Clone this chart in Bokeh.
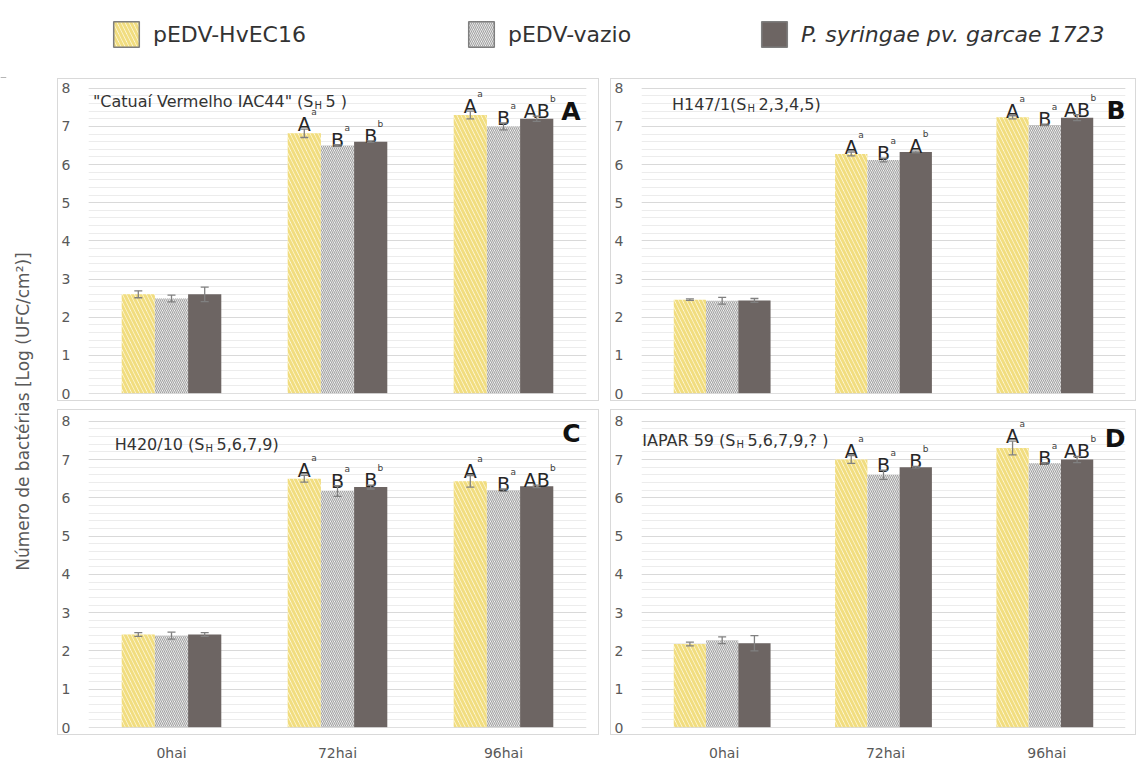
from bokeh.plotting import figure
from bokeh.models import (Range1d, FixedTicker, Whisker, TeeHead, ColumnDataSource,
                          Legend, LegendItem, Spacer, Label, Span)
from bokeh.layouts import row, column
from bokeh.transform import dodge
from bokeh.embed import file_html
from bokeh.resources import INLINE
from bokeh.core.properties import value

# ------------------------------------------------------------------ data
categories = ["0hai", "72hai", "96hai"]
series_names = ["pEDV-HvEC16", "pEDV-vazio", "P. syringae pv. garcae 1723"]
y_ticks = [0, 1, 2, 3, 4, 5, 6, 7, 8]
axis_title = "Número de bactérias [Log (UFC/cm²)]"

panel_letters = ["A", "B", "C", "D"]
title_pre = ['"Catuaí Vermelho IAC44" (S', "H147/1(S", "H420/10 (S", "IAPAR 59 (S"]
title_sub = ["H", "H", "H", "H"]
title_post = [" 5 )", " 2,3,4,5)", " 5,6,7,9)", " 5,6,7,9,? )"]

# Panel A - "Catuaí Vermelho IAC44"
A_hvec = [2.60, 6.82, 7.30]
A_hvec_err = [0.09, 0.11, 0.10]
A_vazio = [2.49, 6.50, 7.00]
A_vazio_err = [0.09, 0.02, 0.09]
A_psg = [2.60, 6.60, 7.20]
A_psg_err = [0.19, 0.02, 0.07]

# Panel B - H147/1
B_hvec = [2.46, 6.28, 7.24]
B_hvec_err = [0.02, 0.05, 0.04]
B_vazio = [2.43, 6.12, 7.04]
B_vazio_err = [0.09, 0.05, 0.02]
B_psg = [2.44, 6.33, 7.23]
B_psg_err = [0.05, 0.02, 0.08]

# Panel C - H420/10
C_hvec = [2.43, 6.50, 6.43]
C_hvec_err = [0.05, 0.09, 0.15]
C_vazio = [2.40, 6.18, 6.20]
C_vazio_err = [0.09, 0.14, 0.03]
C_psg = [2.43, 6.28, 6.30]
C_psg_err = [0.05, 0.05, 0.03]

# Panel D - IAPAR 59
D_hvec = [2.18, 7.00, 7.30]
D_hvec_err = [0.05, 0.10, 0.18]
D_vazio = [2.28, 6.60, 6.90]
D_vazio_err = [0.09, 0.12, 0.02]
D_psg = [2.20, 6.80, 7.00]
D_psg_err = [0.20, 0.02, 0.08]

# significance letters (capital letter + superscript)
A_let = [["", "A", "A"], ["", "B", "B"], ["", "B", "AB"]]
A_sup = [["", "a", "a"], ["", "a", "a"], ["", "b", "b"]]
B_let = [["", "A", "A"], ["", "B", "B"], ["", "A", "AB"]]
B_sup = [["", "a", "a"], ["", "a", "a"], ["", "b", "b"]]
C_let = [["", "A", "A"], ["", "B", "B"], ["", "B", "AB"]]
C_sup = [["", "a", "a"], ["", "a", "a"], ["", "b", "b"]]
D_let = [["", "A", "A"], ["", "B", "B"], ["", "B", "AB"]]
D_sup = [["", "a", "a"], ["", "a", "a"], ["", "b", "b"]]

panels_data = [
    ([A_hvec, A_vazio, A_psg], [A_hvec_err, A_vazio_err, A_psg_err], A_let, A_sup),
    ([B_hvec, B_vazio, B_psg], [B_hvec_err, B_vazio_err, B_psg_err], B_let, B_sup),
    ([C_hvec, C_vazio, C_psg], [C_hvec_err, C_vazio_err, C_psg_err], C_let, C_sup),
    ([D_hvec, D_vazio, D_psg], [D_hvec_err, D_vazio_err, D_psg_err], D_let, D_sup),
]

# ------------------------------------------------------------------ styles
FONT = "DejaVu Sans"
GRID = "#d9d9d9"
MINOR = "#ececec"
TXT = "#595959"
ERR = "#808080"
series_styles = [
    dict(fill_color="#fffcea", hatch_pattern="\\", hatch_color="#f1dd80",
         hatch_scale=8, hatch_weight=3),
    dict(fill_color="#ffffff", hatch_pattern="\\", hatch_color="#a3a3a3",
         hatch_scale=4, hatch_weight=1.2),
    dict(fill_color="#6d6563"),
]
offsets = [-0.2, 0.0, 0.2]
bar_width = 0.2

panel_cfg = [
    dict(width=542, height=323, left=30, right=14, top=8, bottom=9,
         sub_x=226, title_dy=13.5, let_dx=-6, let_dy=24),
    dict(width=526, height=323, left=30, right=12, top=8, bottom=9,
         sub_x=106, title_dy=16.5, let_dx=0, let_dy=23),
    dict(width=542, height=326, left=30, right=14, top=10, bottom=9,
         sub_x=117, title_dy=24, let_dx=-6, let_dy=13),
    dict(width=526, height=326, left=30, right=12, top=10, bottom=9,
         sub_x=95, title_dy=20, let_dx=0, let_dy=18),
]


def make_panel(k):
    cfg = panel_cfg[k]
    vals, errs, lets, sups = panels_data[k]
    p = figure(width=cfg["width"], height=cfg["height"],
               x_range=Range1d(-0.5, len(categories) - 0.5),
               y_range=Range1d(0, 8.02),
               toolbar_location=None, output_backend="svg",
               x_axis_location=None,
               min_border_left=cfg["left"], min_border_right=cfg["right"],
               min_border_top=cfg["top"], min_border_bottom=cfg["bottom"],
               styles={"border": "1px solid #d9d9d9"})
    p.outline_line_color = None
    p.background_fill_color = "white"
    ticker = FixedTicker(ticks=y_ticks,
                         minor_ticks=[round(i * 0.2, 1) for i in range(41)])
    p.yaxis.ticker = ticker
    p.ygrid.ticker = ticker
    p.xgrid.visible = False
    p.ygrid.grid_line_color = GRID
    p.ygrid.minor_grid_line_color = MINOR
    p.yaxis.axis_line_color = None
    p.yaxis.major_tick_line_color = None
    p.yaxis.minor_tick_line_color = None
    p.yaxis.major_label_text_font = FONT
    p.yaxis.major_label_text_font_size = "14px"
    p.yaxis.major_label_text_color = TXT
    p.yaxis.major_label_standoff = 12
    p.add_layout(Span(location=0, dimension="width", line_color="#bfbfbf", line_width=1))

    for s in range(3):
        v, e = vals[s], errs[s]
        src = ColumnDataSource(dict(
            x=list(range(len(categories))),
            top=v,
            upper=[a + b for a, b in zip(v, e)],
            lower=[a - b for a, b in zip(v, e)],
            let=lets[s],
            sup=sups[s],
            soff=[6.4 * len(t) + 0.5 for t in lets[s]],
        ))
        xd = dodge("x", offsets[s], range=p.x_range)
        p.vbar(x=xd, top="top", bottom=0, width=bar_width, source=src,
               line_color=None, **series_styles[s])
        p.add_layout(Whisker(source=src, base=xd, upper="upper", lower="lower",
                             dimension="height", line_color=ERR, line_width=1.3,
                             level="annotation",
                             upper_head=TeeHead(size=8, line_color=ERR, line_width=1.3),
                             lower_head=TeeHead(size=8, line_color=ERR, line_width=1.3)))
        p.text(x=xd, y="upper", text="let", source=src, text_align="center",
               text_baseline="alphabetic", y_offset=-5,
               text_font=value(FONT), text_font_size="19px", text_color="#262626")
        p.text(x=xd, y="upper", text="sup", source=src, text_align="left",
               text_baseline="alphabetic", x_offset="soff", y_offset=-17,
               text_font=value(FONT), text_font_size="9px", text_color="#404040")

    x0 = p.x_range.start
    yt = p.y_range.end
    p.add_layout(Label(x=x0, y=yt, x_offset=cfg["sub_x"] - 1, y_offset=-cfg["title_dy"],
                       text=title_pre[k], text_align="right", text_baseline="middle",
                       text_font=FONT, text_font_size="16px", text_color="#333333"))
    p.add_layout(Label(x=x0, y=yt, x_offset=cfg["sub_x"], y_offset=-(cfg["title_dy"] + 4),
                       text=title_sub[k], text_align="left", text_baseline="middle",
                       text_font=FONT, text_font_size="10px", text_color="#333333"))
    p.add_layout(Label(x=x0, y=yt, x_offset=cfg["sub_x"] + 11, y_offset=-cfg["title_dy"],
                       text=title_post[k], text_align="left", text_baseline="middle",
                       text_font=FONT, text_font_size="16px", text_color="#333333"))
    p.add_layout(Label(x=p.x_range.end, y=yt, x_offset=cfg["let_dx"], y_offset=-cfg["let_dy"],
                       text=panel_letters[k], text_align="right", text_baseline="middle",
                       text_font=FONT, text_font_size="25px", text_font_style="bold",
                       text_color="#111111"))
    return p


panels = [make_panel(k) for k in range(4)]


def make_axis(k, width, left, right):
    a = figure(width=width, height=24, x_range=panels[k].x_range, y_range=Range1d(0, 1),
               toolbar_location=None, output_backend="svg", y_axis_location=None,
               min_border_left=left, min_border_right=right,
               min_border_top=0, min_border_bottom=0)
    a.outline_line_color = None
    a.grid.visible = False
    a.xaxis.ticker = FixedTicker(ticks=list(range(len(categories))))
    a.xaxis.major_label_overrides = {i: c for i, c in enumerate(categories)}
    a.xaxis.axis_line_color = None
    a.xaxis.major_tick_line_color = None
    a.xaxis.minor_tick_line_color = None
    a.xaxis.major_tick_out = 0
    a.xaxis.major_tick_in = 0
    a.xaxis.major_label_standoff = 3
    a.xaxis.major_label_text_font = FONT
    a.xaxis.major_label_text_font_size = "14px"
    a.xaxis.major_label_text_color = TXT
    return a


axC = make_axis(2, 544, 31, 15)
axD = make_axis(3, 528, 31, 13)

# legend strip
lg = figure(width=1140, height=78, x_range=Range1d(0, 1), y_range=Range1d(0, 1),
            toolbar_location=None, output_backend="svg",
            x_axis_location=None, y_axis_location=None, min_border=0)
lg.outline_line_color = None
lg.grid.visible = False
# one zero-height placeholder row so the legend swatches get their styles
swatch_src = ColumnDataSource(dict(x=[0], top=[0]))
leg_pos = [(110, 28), (465, 28), (758, 28)]
leg_style = ["normal", "normal", "italic"]
for s in range(3):
    r = lg.vbar(x="x", top="top", bottom=0, width=0.01, source=swatch_src,
                line_color="#7f7f7f", line_width=1.5, **series_styles[s])
    leg = Legend(items=[LegendItem(label=series_names[s], renderers=[r])],
                 location=leg_pos[s], orientation="horizontal",
                 glyph_width=32, glyph_height=32, label_standoff=11,
                 padding=0, margin=0, border_line_color=None,
                 background_fill_alpha=0,
                 label_text_font=FONT, label_text_font_size="22px",
                 label_text_font_style=leg_style[s], label_text_color="#333333")
    lg.add_layout(leg)

# y-axis title strip
yl = figure(width=57, height=661, x_range=Range1d(0, 1), y_range=Range1d(0, 1),
            toolbar_location=None, output_backend="svg",
            x_axis_location=None, y_axis_location=None, min_border=0)
yl.outline_line_color = None
yl.grid.visible = False
yl.add_layout(Label(x=22, y=328, x_units="screen", y_units="screen", text=axis_title,
                    angle=90, angle_units="deg", text_align="center",
                    text_baseline="middle", text_font=FONT, text_font_size="17px",
                    text_color=TXT))

top_row = row(panels[0], Spacer(width=11), panels[1])
bot_row = row(panels[2], Spacer(width=11), panels[3])
grid = column(top_row, Spacer(height=8), bot_row)
mid = row(yl, grid)
ax_row = row(Spacer(width=57), axC, Spacer(width=11), axD)
page = column(lg, mid, ax_row)

open("out.html", "w").write(file_html(page, INLINE))
